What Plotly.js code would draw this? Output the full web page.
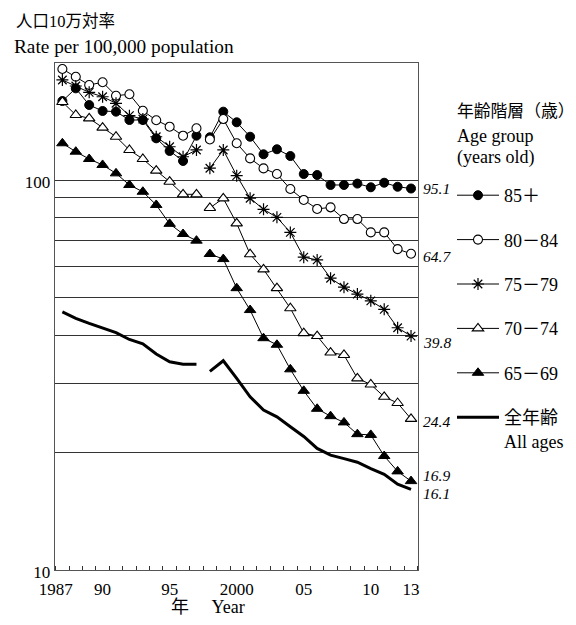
<!DOCTYPE html>
<html>
<head>
<meta charset="utf-8">
<script src="https://cdn.plot.ly/plotly-3.0.1.min.js"></script>
<style>html,body{margin:0;padding:0;background:#fff;}#chart{width:576px;height:625px;}</style>
</head>
<body>
<div id="chart"></div>
<script>
// ---- data ----
const years = [1987,1988,1989,1990,1991,1992,1993,1994,1995,1996,1997,1998,1999,2000,2001,2002,2003,2004,2005,2006,2007,2008,2009,2010,2011,2012,2013];
const age85plus = [159.4,171.8,155.7,150.3,149.7,142.5,142.5,127.9,118.7,111.9,129.9,128.7,149.7,140.6,129.1,116.4,119.9,115.2,103.6,103.0,97.1,97.1,97.9,95.8,98.4,96.1,95.1];
const age80_84 = [192.6,184.0,175.2,178.1,164.5,165.9,150.5,142.3,137.0,129.9,135.7,127.0,143.3,124.2,113.6,107.1,103.6,94.8,88.9,84.3,85.1,79.4,79.4,73.4,73.4,66.5,64.7];
const age75_79 = [180.5,174.2,167.8,163.5,157.3,146.2,143.3,129.1,121.7,114.7,119.4,107.2,119.4,102.6,89.8,84.1,80.2,73.4,63.4,62.4,56.0,53.1,51.0,49.0,46.6,41.8,39.8];
const age70_74 = [158.5,146.8,143.9,136.2,129.1,119.4,113.2,105.7,99.0,91.9,91.9,84.8,89.7,77.4,64.5,59.0,52.8,46.9,40.5,39.8,36.1,35.6,31.0,29.9,27.8,26.8,24.4];
const age65_69 = [124.2,118.2,113.2,109.3,104.0,97.1,93.3,86.3,77.2,72.7,69.9,64.6,62.7,52.8,46.4,39.3,37.8,32.7,28.8,25.9,24.8,23.9,22.3,22.2,19.6,17.9,16.9];
const allAges = [45.9,44.2,42.9,41.8,40.6,39.0,38.0,35.8,34.2,33.7,33.7,32.3,34.4,31.0,27.8,25.7,24.7,23.3,22.0,20.5,19.7,19.3,18.9,18.2,17.6,16.6,16.1];
const seriesNames = ['85＋','80－84','75－79','70－74','65－69','全年齢<br>All ages'];
const endLabels = ['95.1','64.7','39.8','24.4','16.9','16.1'];
const xTickLabels = ['1987','90','95','2000','05','10','13'];
const yTickLabels = ['10','100'];
const legendTitleLines = ['年齢階層（歳）','Age group','(years old)'];
const breakAfter = 1997; // series break between 1997 and 1998

// ---- build ----
const SERIF = 'Liberation Serif, "Noto Sans CJK JP", serif';
function split(vals){
  const x=[], y=[];
  years.forEach((yr,i)=>{
    x.push(yr); y.push(vals[i]);
    if(yr===breakAfter){ x.push(yr+0.5); y.push(null); }
  });
  return {x,y};
}
const styles = [
  {symbol:'circle', size:9, color:'#000', lw:1, width:1},
  {symbol:'circle', size:9, color:'#fff', lw:1.1, width:1},
  {symbol:'asterisk-open', size:10, color:'#000', lw:1.2, width:1},
  {symbol:'triangle-up', size:10, color:'#fff', lw:1.1, width:1},
  {symbol:'triangle-up', size:10, color:'#000', lw:1, width:1},
  null
];
const all = [age85plus, age80_84, age75_79, age70_74, age65_69, allAges];
const traces = all.map((vals,k)=>{
  const d = split(vals);
  const s = styles[k];
  const t = {type:'scatter', x:d.x, y:d.y, name:seriesNames[k], legendgroup:'g'+k,
    connectgaps:false, cliponaxis:false};
  if(s){
    t.mode='lines+markers';
    t.line={color:'#000', width:s.width};
    t.marker={symbol:s.symbol, size:s.size, color:s.color, line:{color:'#000', width:s.lw}};
  } else {
    t.mode='lines';
    t.line={color:'#000', width:3};
  }
  return t;
});

const PW = 363, PH = 507, L = 55, T = 63;
const px2x = px => (px - L) / PW;
const px2y = py => (T + PH - py) / PH;

const shifts=[0,-2.5,-6,-3,6,-4];
const annotations = all.map((vals,k)=>({
  xref:'paper', x:1, xanchor:'left', xshift:3,
  yref:'y', y:Math.log10(vals[vals.length-1]), yanchor:'middle', yshift:shifts[k],
  text:endLabels[k], showarrow:false,
  font:{family:SERIF, size:15.5, color:'#000', style:'italic'}
}));
annotations.push({xref:'paper', yref:'paper', x:px2x(14), y:px2y(21.5), xanchor:'left', yanchor:'middle',
  text:'人口10万対率', showarrow:false, font:{family:SERIF, size:16.5, color:'#000'}});
annotations.push({xref:'paper', yref:'paper', x:px2x(12), y:px2y(46.5), xanchor:'left', yanchor:'middle',
  text:'Rate per 100,000 population', showarrow:false, font:{family:SERIF, size:19.3, color:'#000'}});
annotations.push({xref:'paper', yref:'paper', x:px2x(208), y:px2y(607), xanchor:'center', yanchor:'middle',
  text:'年　 Year', showarrow:false, font:{family:SERIF, size:18, color:'#000'}});
const titleY = [111, 136, 158];
legendTitleLines.forEach((t,i)=>annotations.push({xref:'paper', yref:'paper', x:px2x(455), y:px2y(titleY[i]),
  xanchor:'left', yanchor:'middle', text:t, showarrow:false, font:{family:SERIF, size:i===0?16.8:18, color:'#000'}}));

const layout = {
  width:576, height:625,
  margin:{l:L, r:576-L-PW, t:T, b:625-T-PH, autoexpand:false},
  paper_bgcolor:'#fff', plot_bgcolor:'#fff',
  font:{family:SERIF, size:17, color:'#000'},
  showlegend:true,
  xaxis:{range:[1986.45,2013.52], showgrid:false, zeroline:false, automargin:false,
    showline:true, linecolor:'#555', linewidth:1.3, mirror:true,
    tickmode:'array', tickvals:[1986.5,1990,1995,2000,2005,2010,2013], ticktext:xTickLabels,
    ticks:'', ticklabelstandoff:3, tickfont:{family:SERIF, size:17, color:'#000'},
    minor:{tick0:1986.5, dtick:1, ticks:'inside', ticklen:4, tickcolor:'#333', tickwidth:1, showgrid:false}},
  yaxis:{type:'log', range:[1,2.3], showgrid:true, gridcolor:'#333', gridwidth:1, zeroline:false, automargin:false,
    showline:true, linecolor:'#555', linewidth:1.3, mirror:true,
    tickmode:'array', tickvals:[10,20,30,40,50,60,70,80,90,100],
    ticktext:[yTickLabels[0],'','','','','','','','',yTickLabels[1]],
    ticks:'', ticklabelshift:2, tickfont:{family:SERIF, size:17, color:'#000'}},
  legend:{x:px2x(452), xanchor:'left', y:px2y(177), yanchor:'top',
    bgcolor:'rgba(0,0,0,0)', font:{family:SERIF, size:18, color:'#000'},
    tracegroupgap:18, valign:'top', itemwidth:42},
  annotations:annotations
};
Plotly.newPlot('chart', traces, layout, {displayModeBar:false, staticPlot:true});
</script>
</body>
</html>
